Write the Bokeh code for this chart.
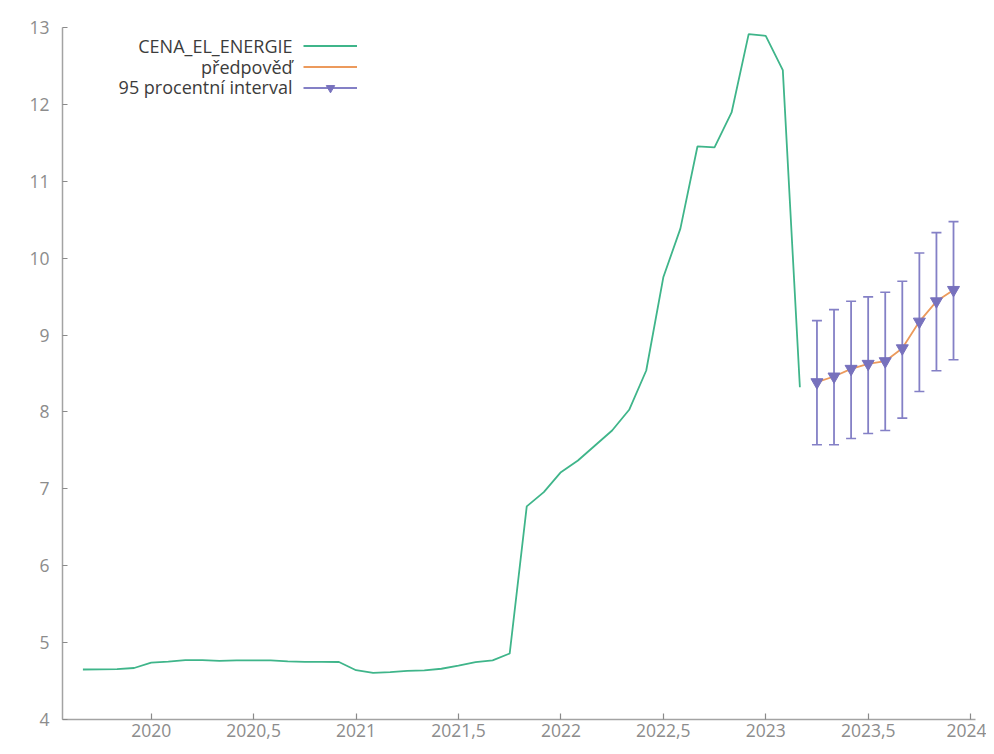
from bokeh.plotting import figure
from bokeh.models import Range1d, FixedTicker, Label, Legend, LegendItem, ColumnDataSource, BoxAnnotation
from bokeh.embed import file_html
from bokeh.resources import INLINE

# ---- data (monthly, gretl-style time axis: year + (month-1)/12) ----
start_year, start_month = 2019, 9
cena_el_energie = [
    4.650, 4.652, 4.655, 4.670,                      # 2019:09-12
    4.741, 4.752, 4.772, 4.772, 4.762, 4.768,        # 2020:01-06
    4.770, 4.768, 4.755, 4.750, 4.750, 4.748,        # 2020:07-12
    4.641, 4.606, 4.617, 4.632, 4.640, 4.660,        # 2021:01-06
    4.700, 4.745, 4.770, 4.858, 6.772, 6.957,        # 2021:07-12
    7.217, 7.369, 7.564, 7.759, 8.028, 8.539,        # 2022:01-06
    9.751, 10.384, 11.453, 11.440, 11.895, 12.914,   # 2022:07-12
    12.892, 12.446, 8.322,                           # 2023:01-03
]
fc_start_year, fc_start_month = 2023, 4
predpoved = [8.387, 8.461, 8.561, 8.626, 8.660, 8.828, 9.175, 9.439, 9.587]
interval_upper = [9.188, 9.331, 9.439, 9.496, 9.556, 9.699, 10.068, 10.332, 10.475]
interval_lower = [7.573, 7.573, 7.655, 7.720, 7.759, 7.919, 8.266, 8.535, 8.678]

x_ticks = [2020, 2020.5, 2021, 2021.5, 2022, 2022.5, 2023, 2023.5, 2024]
x_tick_labels = ["2020", "2020,5", "2021", "2021,5", "2022", "2022,5", "2023", "2023,5", "2024"]
y_ticks = [4, 5, 6, 7, 8, 9, 10, 11, 12, 13]

legend_labels = ["CENA_EL_ENERGIE", "předpověď", "95 procentní interval"]


def monthly(y0, m0, n):
    return [y0 + (m0 - 1 + i) / 12.0 for i in range(n)]


t_act = monthly(start_year, start_month, len(cena_el_energie))
t_fc = monthly(fc_start_year, fc_start_month, len(predpoved))

src_act = ColumnDataSource(dict(t=t_act, y=cena_el_energie))
src_fc = ColumnDataSource(dict(t=t_fc, y=predpoved, lo=interval_lower, hi=interval_upper))

GREEN = "#3fb58a"
ORANGE = "#ec9a5c"
PURPLE = "#8480c6"
PURPLE_DARK = "#7771bd"
FONT = "Open Sans"

W, H = 986, 746
TOP, BOTTOM, LEFT, RIGHT = 27, 27, 62, 11

p = figure(width=W, height=H, output_backend="svg", toolbar_location=None,
           x_range=Range1d(2019.567, 2024.024), y_range=Range1d(4, 13),
           min_border_left=LEFT, min_border_right=RIGHT, min_border_top=TOP, min_border_bottom=BOTTOM)
p.outline_line_color = None
p.xgrid.visible = False
p.ygrid.visible = False
p.background_fill_color = "white"
p.border_fill_color = "white"

for ax in (p.xaxis[0], p.yaxis[0]):
    ax.axis_line_color = "#a3a3a3"
    ax.axis_line_width = 1.5
    ax.major_tick_line_color = "#8a8a8a"
    ax.major_tick_line_width = 1.2
    ax.major_tick_out = 0
    ax.minor_tick_line_color = None
    ax.major_label_text_font = FONT
    ax.major_label_text_font_size = "17.5px"
    ax.major_label_text_color = "#8c8c8c"

p.xaxis.ticker = FixedTicker(ticks=x_ticks)
p.xaxis.major_label_overrides = {t: l for t, l in zip(x_ticks, x_tick_labels)}
p.xaxis.major_tick_in = 6
p.xaxis.major_label_standoff = 4

p.yaxis.ticker = FixedTicker(ticks=y_ticks)
p.yaxis.major_tick_in = 5
p.yaxis.major_label_standoff = 13

# page frame of the source document (light grey border, left and top)
p.add_layout(BoxAnnotation(left=8, right=W + 50, top=12, bottom=H + 50,
                           left_units="canvas", right_units="canvas",
                           top_units="canvas", bottom_units="canvas",
                           fill_alpha=0, line_color="#cfcfcf", line_width=1.5, level="underlay"))

r_act = p.line("t", "y", source=src_act, line_color=GREEN, line_width=1.8)
r_fc = p.line("t", "y", source=src_fc, line_color=ORANGE, line_width=1.8)
r_bar = p.segment(x0="t", y0="lo", x1="t", y1="hi", source=src_fc, line_color=PURPLE, line_width=1.8)
p.scatter("t", "hi", source=src_fc, marker="dash", size=10, line_color=PURPLE, line_width=1.6)
p.scatter("t", "lo", source=src_fc, marker="dash", size=10, line_color=PURPLE, line_width=1.6)
r_tri = p.scatter("t", "y", source=src_fc, marker="inverted_triangle", size=12,
                  fill_color=PURPLE_DARK, line_color=PURPLE_DARK)

# legend: text right-aligned, key samples to the right of the text
frame_h = H - TOP - BOTTOM
row_tops = [18, 39, 59.5]
for lab, rt in zip(legend_labels, row_tops):
    p.add_layout(Label(x=230, y=frame_h - rt, x_units="screen", y_units="screen", text=lab,
                       text_align="right", text_baseline="middle", text_font=FONT,
                       text_font_size="18px", text_color="#3c3c3c"))

leg = Legend(items=[LegendItem(label=" ", renderers=[r_act]),
                    LegendItem(label=" ", renderers=[r_fc]),
                    LegendItem(label=" ", renderers=[r_bar, r_tri])],
             location=(241, frame_h - 8 - 63), glyph_width=54, glyph_height=21,
             label_height=21, label_width=1, label_standoff=0, spacing=0,
             padding=0, margin=0, border_line_color=None, background_fill_alpha=0)
p.add_layout(leg)

open("out.html", "w").write(file_html(p, INLINE))
